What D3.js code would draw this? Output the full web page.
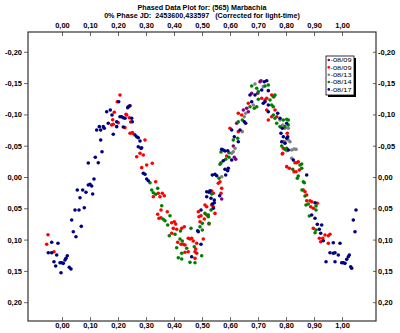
<!DOCTYPE html>
<html><head><meta charset="utf-8">
<script src="https://cdn.jsdelivr.net/npm/d3@7"></script>
<style>
body{margin:0;background:#fff;}
svg{display:block;font-family:"Liberation Sans",Arial,sans-serif;}
</style></head>
<body><svg id="c" width="400" height="333"></svg>
<script>
const titleLines = ["Phased Data Plot for: (565) Marbachia", "0% Phase JD:  2453600,433597   (Corrected for light-time)"];
const xTicks = [0,0.1,0.2,0.3,0.4,0.5,0.6,0.7,0.8,0.9,1.0];
const yTicks = [-0.20,-0.15,-0.10,-0.05,0,0.05,0.10,0.15,0.20];
const seriesNames = ["08/09","08/09","08/13","08/14","08/17"];
const seriesColors = ["#800080","#ff0000","#808080","#008000","#000080"];

const s0809a = [[0.6154,-0.0315],[0.6204,-0.0283],[0.6118,-0.0495],[0.6239,-0.0858],[0.6475,-0.1070],[0.6596,-0.1097],[0.6654,-0.1043],[0.6775,-0.1337],[0.6989,-0.1337],[0.7071,-0.1522],[0.7107,-0.1538],[0.5704,0.0351]];
const s0809b = [[0.2071,-0.1310],[0.1975,-0.1203],[0.2404,-0.1134],[0.1868,-0.1034],[0.2286,-0.1002],[0.2404,-0.0947],[0.1811,-0.0915],[0.2011,-0.0867],[0.1775,-0.0831],[0.1832,-0.0842],[0.2454,-0.0879],[0.2250,-0.0788],[0.2429,-0.0698],[0.2525,-0.0698],[-0.0500,0.0922],[-0.0546,0.1075],[-0.0286,0.1193],
[0.2311,-0.0990],[0.2511,-0.0708],[0.2964,-0.0591],[0.2786,-0.0379],[0.2904,-0.0351],[0.2668,-0.0324],[0.3025,-0.0192],[0.3225,-0.0219],[0.2846,-0.0149],[0.3346,0.0075],[0.3439,0.0260],[0.3582,0.0260],[0.3654,0.0299],[0.3261,0.0315],[0.3500,0.0315],[0.3536,0.0527],[0.3761,0.0554],[0.3418,0.0596],[0.3464,0.0660],[0.3536,0.0650],[0.3918,0.0730],[0.4011,0.0714],[0.4061,0.0751],[0.3975,0.0820],[0.4096,0.0835],[0.4275,0.0820],[0.4368,0.0794],[0.3918,0.0899],[0.4511,0.0979],[0.4571,0.0990],[0.4632,0.0979],[0.4132,0.1043],[0.4250,0.1075],[0.4332,0.1075],[0.4393,0.1086],[0.4689,0.1022],[0.4811,0.1059],[0.5046,0.0990],[0.4775,0.1150],[0.4393,0.1203],[0.4511,0.1193],[0.4750,0.1193],[0.4811,0.1219],[0.4750,0.1299],[0.4868,0.0554],[0.4893,0.0634],[0.4964,0.0618],[0.4929,0.0714],[0.5082,0.0671],[0.5346,0.0224],[0.5404,0.0260],[0.5346,0.0447],[0.5404,0.0474],[0.5464,0.0581],
[0.5679,0.0260],[0.5704,0.0181],[0.5107,0.0447],[0.5168,0.0474],[0.5168,0.0607],[0.5250,0.0751],[0.5643,0.0075],[0.5582,0.0101],[0.5882,-0.0335],[0.6000,-0.0778],[0.6296,-0.0724],[0.6296,-0.1018],[0.6418,-0.0990],[0.6654,-0.1177],[0.7132,-0.1257],[0.7250,-0.1230],[0.7311,-0.1257],[0.7489,-0.1310],[0.7571,-0.1283],[0.7311,-0.1070],[0.7368,-0.0911],[0.7489,-0.0963],[0.7607,-0.1070],[0.7668,-0.0963],[0.7904,-0.0564],[0.7868,-0.0367],[0.8025,-0.0165],
[0.8046,-0.0698],[0.7904,-0.0458],[0.7882,-0.0379],[0.8321,-0.0228],[0.8382,-0.0228],[0.8439,-0.0244],[0.8118,-0.0139],[0.8286,-0.0085],[0.8357,-0.0085],[0.8475,-0.0112],[0.8618,0.0208],[0.8679,0.0235],[0.8739,0.0288],[0.8739,0.0379],[0.8857,0.0379],[0.8918,0.0395],[0.8882,0.0474],[0.8975,0.0500],[0.9118,0.0420],[0.8975,0.0820],[0.9189,0.0979],[0.9311,0.0979],[0.9393,0.0927],[0.9511,0.0938],[0.9571,0.0915],[0.9239,0.1034],[0.9511,0.1059]];
const s0813 = [[0.5704,-0.0005],[0.6061,-0.0379],[0.6118,-0.0404],[0.6179,-0.0458],[0.6439,-0.0724],[0.6511,-0.0963],[0.6561,-0.1018],[0.6832,-0.1150],[0.7189,-0.1443],[0.7786,-0.0911],[0.6893,-0.1486],[0.7882,-0.0831],[0.7964,-0.0778],[0.8082,-0.0778],[0.8082,-0.0591],[0.7964,-0.0564],[0.8143,-0.0564],[0.8286,-0.0447],[0.8357,-0.0442],[0.8204,-0.0299],[0.8204,-0.0431],[0.8025,-0.0420]];
const s0814 = [[0.3143,0.0091],[0.3204,0.0208],[0.3418,0.0181],[0.3261,0.0251],[0.3346,0.0276],[0.3561,0.0458],[0.3857,0.0618],[0.3618,0.0676],[0.3679,0.0698],[0.3775,0.0767],[0.4036,0.0915],[0.3832,0.0938],[0.4232,0.0863],[0.4607,0.0820],[0.4214,0.0990],[0.4296,0.1022],[0.5011,0.0847],[0.4096,0.1129],[0.4454,0.1139],[0.4725,0.1113],[0.4275,0.1219],[0.4154,0.1289],[0.4275,0.1310],[0.4989,0.1257],[0.4571,0.1363],[0.4750,0.1369],[0.5107,0.0581],[0.4929,0.0794],[0.5011,0.0740],[0.5225,0.0607],[0.5250,0.0740],[0.5607,0.0021],[0.5643,-0.0203],
[0.5346,0.0272],[0.5321,0.0527],[0.5225,0.0634],[0.5679,-0.0228],[0.5846,-0.0283],[0.5679,-0.0399],[0.5964,-0.0388],[0.5964,-0.0315],[0.6275,-0.0618],[0.6118,-0.0591],[0.6296,-0.0883],[0.6439,-0.0911],[0.6714,-0.1123],[0.6868,-0.1097],[0.6954,-0.1123],[0.6775,-0.1454],[0.6954,-0.1417],[0.7011,-0.1363],[0.7011,-0.1241],[0.7250,-0.1454],[0.7368,-0.1470],[0.7429,-0.1230],[0.7546,-0.1283],[0.7607,-0.1310],[0.7489,-0.1150],[0.7546,-0.1123],[0.7546,-0.0990],[0.7607,-0.0938],[0.7904,-0.0911],[0.8025,-0.0922],[0.7964,-0.0804],[0.8082,-0.0831],[0.7668,-0.0858],[0.7846,-0.0495],[0.8025,-0.0458],
[0.8082,-0.0911],[0.7786,-0.0804],[0.7964,-0.0442],[0.8239,-0.0123],[0.8500,-0.0192],[0.8561,-0.0208],[0.8561,-0.0139],[0.8404,0.0021],[0.8439,-0.0016],[0.8618,0.0075],[0.8654,0.0091],[0.8571,0.0208],[0.8679,0.0304],[0.8796,0.0431],[0.8714,0.0447],[0.9071,0.0463],[0.9071,0.0527],[0.8832,0.0623],[0.9071,0.0847],[0.9036,0.0890]];
const s0817 = [[0.2025,-0.1203],[0.2346,-0.1107],[0.1725,-0.1070],[0.1596,-0.1043],[0.1786,-0.0990],[0.2071,-0.0963],[0.2132,-0.0963],[0.2189,-0.0947],[0.2250,-0.0938],[0.1954,-0.0883],[0.1654,-0.0858],[0.2189,-0.0799],[0.1954,-0.0804],[0.1332,-0.0804],[0.1475,-0.0804],[0.1511,-0.0778],[0.1239,-0.0751],[0.1382,-0.0751],[0.2607,-0.0671],[0.1832,-0.0682],[0.1382,-0.0591],[0.1429,-0.0404],[0.1189,-0.0315],[0.0939,-0.0224],[0.1296,-0.0228],[0.1143,0.0032],[0.1000,0.0117],[0.0939,0.0128],[0.1061,0.0144],[0.0546,0.0208],[0.0739,0.0208],[0.0857,0.0244],[0.1096,0.0272],[0.0643,0.0331],[0.0796,0.0490],[0.0464,0.0527],[0.0607,0.0527],[0.0346,0.0687],[0.0689,0.0788],[0.0404,0.0874],[0.0500,0.0954],[-0.0368,0.1043],[-0.0143,0.1059],[-0.0489,0.1209],[-0.0368,0.1209],[-0.0189,0.1246],[0.0189,0.1257],[0.0143,0.1299],[0.0107,0.1326],[-0.0286,0.1353],[-0.0071,0.1369],[-0.0011,0.1369],[0.0046,0.1379],[-0.0225,0.1422],[0.0261,0.1443],[0.0321,0.1470],[-0.0036,0.1529],
[0.2368,-0.1123],[0.2429,-0.1139],[0.2489,-0.0938],[0.2511,-0.0883],[0.2668,-0.0644],[0.2725,-0.0628],[0.2786,-0.0575],[0.2725,-0.0484],[0.2821,-0.0458],[0.2846,-0.0468],[0.2904,-0.0059],[0.2964,-0.0043],[0.3025,0.0032],[0.3082,0.0059],[0.4868,0.0874],[0.4846,0.0858],[0.4964,0.1075],[0.4632,0.1273],[0.4964,0.0527],[0.5168,0.0235],[0.5250,0.0244],[0.5168,0.0315],[0.5321,0.0340],[0.5439,0.0367],[0.5368,-0.0032],[0.5464,-0.0043],[0.5525,-0.0021],
[0.5286,0.0219],[0.5439,0.0411],[0.5368,0.0431],[0.5632,0.0299],[0.5404,0.0500],[0.5821,-0.0123],[0.5918,-0.0101],[0.5939,-0.0139],[0.5846,-0.0032],[0.5761,-0.0260],[0.5704,-0.0442],[0.5761,-0.0431],[0.5821,-0.0415],[0.5918,-0.0420],[0.6061,-0.0272],[0.6061,-0.0751],[0.6154,-0.0644],[0.6296,-0.0564],[0.6357,-0.0751],[0.6511,-0.0883],[0.6561,-0.0858],[0.6775,-0.1203],[0.6714,-0.1310],[0.6893,-0.1310],[0.7225,-0.1522],[0.7311,-0.1538],[0.7132,-0.1390],[0.7368,-0.1379],[0.7189,-0.1177],[0.7250,-0.1203],[0.7368,-0.1150],[0.7368,-0.1043],[0.7704,-0.1018],[0.7868,-0.0778],[0.7821,-0.0698],[0.7904,-0.0644],[0.8061,-0.0644],[0.7964,-0.0538],[0.8082,-0.0431],
[0.7786,-0.0938],[0.8025,-0.0858],[0.8025,-0.0618],[0.7846,-0.0564],[0.8261,-0.0272],[0.8739,-0.0032],[0.9036,0.0411],[0.8918,0.0607],[0.9036,0.0660],[0.9118,0.0756],[0.9275,0.0767],[0.9189,0.0835],[0.9239,0.0899],[0.9332,0.1018],[0.9689,0.1050],[0.9929,0.1059],[0.9571,0.1209],[0.9689,0.1219],[0.9750,0.1209],[0.9868,0.1246],[0.9429,0.1353],[0.9750,0.1353],[0.9989,0.1369],[1.0046,0.1369],[1.0107,0.1379],[1.0168,0.1315],[1.0225,0.1273],[1.0261,0.1246],[1.0311,0.1433],[1.0346,0.1458],[1.0500,0.0527],[1.0404,0.0687],[1.0464,0.0874]];
const seriesData = [s0809a, s0809b, s0813, s0814, s0817];

const svg = d3.select("#c");
const L = 28, R = 376, T = 32, B = 321;
const x = d3.scaleLinear().domain([-0.1214, 1.1214]).range([L, R]);
const y = d3.scaleLinear().domain([-0.2316, 0.2300]).range([T, B]);
const fmt = v => d3.format(".2f")(v).replace(".", ",").replace("−", "-");
const font = "7.5px";

// titles
svg.selectAll("text.title").data(titleLines).join("text")
  .attr("class","title").attr("x", 202).attr("y", (d,i) => 10 + i*8.4)
  .attr("text-anchor","middle").style("font-size", "7.2px").style("font-weight","bold")
  .style("white-space","pre").attr("xml:space","preserve").text(d => d);

function styleAxis(g){
  g.select(".domain").remove();
  g.selectAll(".tick line").attr("stroke","#444").attr("stroke-width",0.8);
  g.selectAll(".tick text").style("font-size", font).style("font-weight","bold").attr("fill","#000")
    .style("font-family","'Liberation Sans',Arial,sans-serif");
}
svg.append("g").attr("transform",`translate(0,${T})`)
  .call(d3.axisTop(x).tickValues(xTicks).tickFormat(fmt).tickSize(-4).tickPadding(4)).call(styleAxis);
svg.append("g").attr("transform",`translate(0,${B})`)
  .call(d3.axisBottom(x).tickValues(xTicks).tickFormat(fmt).tickSize(-4).tickPadding(2)).call(styleAxis);
svg.append("g").attr("transform",`translate(${L},0)`)
  .call(d3.axisLeft(y).tickValues(yTicks).tickFormat(fmt).tickSize(4).tickPadding(2)).call(styleAxis);
svg.append("g").attr("transform",`translate(${R},0)`)
  .call(d3.axisRight(y).tickValues(yTicks).tickFormat(fmt).tickSize(-3).tickPadding(2)).call(styleAxis);

svg.append("rect").attr("x",L).attr("y",T).attr("width",R-L).attr("height",B-T)
  .attr("fill","none").attr("stroke","#333").attr("stroke-width",1.2);

// points
seriesData.forEach((arr, si) => {
  svg.append("g").selectAll("circle").data(arr).join("circle")
    .attr("cx", d => x(d[0])).attr("cy", d => y(d[1])).attr("r", 1.8)
    .attr("fill", seriesColors[si]);
});

// legend
const lg = svg.append("g");
lg.append("rect").attr("x",328).attr("y",58).attr("width",28).attr("height",39).attr("fill","#000");
lg.append("rect").attr("x",326).attr("y",56).attr("width",28).attr("height",39).attr("fill","#fff").attr("stroke","#000").attr("stroke-width",0.8);
seriesNames.forEach((n,i) => {
  const yy = 60 + i*7.35;
  lg.append("circle").attr("cx",328.8).attr("cy",yy).attr("r",1.3).attr("fill",seriesColors[i]);
  lg.append("text").attr("x",330.5).attr("y",yy+2.2).style("font-size","6.2px")
    .attr("textLength",21).attr("lengthAdjust","spacingAndGlyphs").text("-" + n);
});
</script></body></html>
